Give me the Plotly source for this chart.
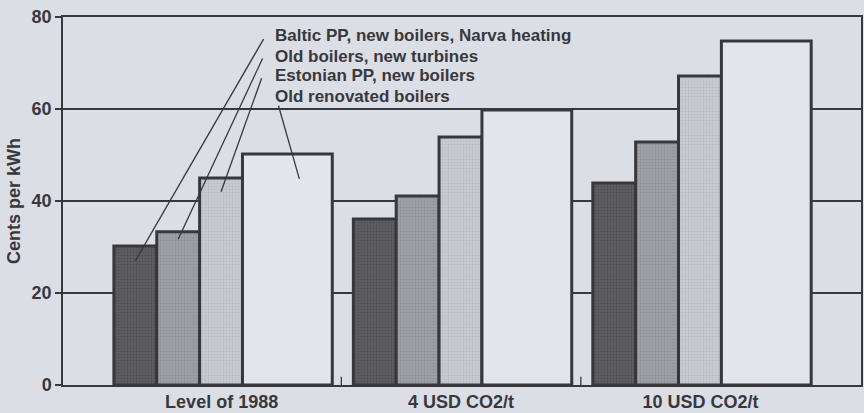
import plotly.graph_objects as go

# Scénarios (catégories de l'axe x)
groupes = ["Level of 1988", "4 USD CO2/t", "10 USD CO2/t"]

# Options de production (une série par option)
series = [
    "Baltic PP, new boilers, Narva heating",
    "Old boilers, new turbines",
    "Estonian PP, new boilers",
    "Old renovated boilers",
]

# Coût (cents par kWh)
baltic_pp = [30.2, 36.1, 43.9]
old_boilers_turbines = [33.3, 41.1, 52.8]
estonian_pp = [45.0, 53.9, 67.2]
old_renovated = [50.2, 59.8, 74.8]
valeurs = [baltic_pp, old_boilers_turbines, estonian_pp, old_renovated]

# Style
FOND = "#dcdee6"
ENCRE = "#38383c"
COULEURS = ["#5e5e63", "#a0a1a7", "#c9cbd1", "#e3e5eb"]
TRAMES = ["#3e3e42", "#7c7d83", "#a9abb1", None]
LARGEURS = [0.179, 0.179, 0.179, 0.375]
DEBUT_GROUPE = -0.45
POLICE = "Liberation Sans, Arial, sans-serif"

fig = go.Figure()

x_idx = list(range(len(groupes)))
offset = DEBUT_GROUPE
centres = []
for nom, vals, couleur, trame, largeur in zip(series, valeurs, COULEURS,
                                              TRAMES, LARGEURS):
    marker = dict(color=couleur, line=dict(color=ENCRE, width=3))
    if trame:
        marker["pattern"] = dict(shape=".", fillmode="overlay", fgcolor=trame,
                                 size=3, solidity=0.35)
    fig.add_trace(go.Bar(
        x=x_idx, y=vals, name=nom,
        offset=offset, width=largeur, marker=marker,
        showlegend=False, hoverinfo="y+name"))
    centres.append(offset + largeur / 2)
    offset += largeur

# Étiquettes avec traits de rappel vers le premier groupe
x_texte = 0.2125
y_textes = [75.9, 71.5, 67.2, 62.8]
depart_traits = [(0.175, 75.2), (0.171, 71.0), (0.167, 66.7), (0.2375, 60.7)]
descente = [3.2, 1.6, 3.0, 5.4]
for i, nom in enumerate(series):
    fig.add_annotation(
        x=x_texte, y=y_textes[i], text=f"<b>{nom}</b>",
        showarrow=False, xanchor="left", yanchor="middle",
        font=dict(family=POLICE, size=17, color=ENCRE))
    x0, y0 = depart_traits[i]
    x1 = centres[i] + (0.05 if i == 3 else 0.0)
    fig.add_shape(type="line", x0=x0, y0=y0, x1=x1,
                  y1=valeurs[i][0] - descente[i],
                  line=dict(color=ENCRE, width=1.3))

# Petits traits de séparation entre groupes, et prolongement de l'axe y
for xs in [0.5, 1.5]:
    fig.add_shape(type="line", x0=xs, x1=xs, y0=-1.6, y1=1.8,
                  line=dict(color=ENCRE, width=1.3))
fig.add_shape(type="line", xref="paper", x0=0, x1=0, y0=-1.5, y1=0,
              line=dict(color=ENCRE, width=1.5))

fig.update_layout(
    width=864, height=413,
    barmode="overlay",
    paper_bgcolor=FOND, plot_bgcolor=FOND,
    margin=dict(l=63, r=1, t=17, b=27),
    font=dict(family=POLICE, color=ENCRE),
)
fig.update_xaxes(
    range=[-0.6625, 2.67],
    tickvals=x_idx, ticktext=[f"<b>{g}</b>" for g in groupes],
    tickfont=dict(size=18, color=ENCRE),
    showgrid=False, zeroline=False,
    showline=True, linecolor=ENCRE, linewidth=1.5, mirror=True,
    ticks="", ticklen=0)
fig.update_yaxes(
    range=[0, 80], tickvals=[0, 20, 40, 60, 80],
    ticktext=[f"<b>{v}</b>" for v in [0, 20, 40, 60, 80]],
    tickfont=dict(size=18, color=ENCRE),
    ticks="outside", ticklen=6, tickcolor=ENCRE, tickwidth=1.5,
    showgrid=True, gridcolor=ENCRE, gridwidth=1.5, zeroline=False,
    showline=True, linecolor=ENCRE, linewidth=1.5, mirror=True,
    title=dict(text="<b>Cents per kWh</b>", font=dict(size=18, color=ENCRE),
               standoff=6))

fig.write_html("out.html",
               config={"displayModeBar": False},
               post_script="document.body.style.margin='0';"
                           "document.body.style.background='%s';" % FOND)
